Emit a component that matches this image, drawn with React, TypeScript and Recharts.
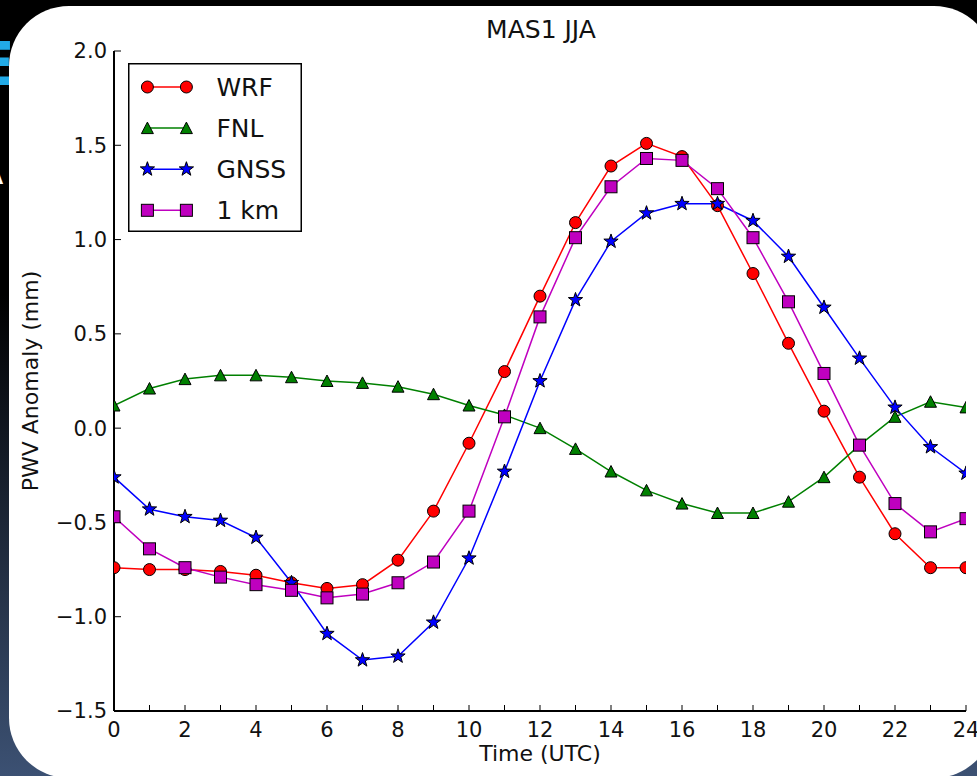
import React from "react";
import { Legend, Line, LineChart, XAxis, YAxis } from "recharts";

const hours = [0, 1, 2, 3, 4, 5, 6, 7, 8, 9, 10, 11, 12, 13, 14, 15, 16, 17, 18, 19, 20, 21, 22, 23, 24];
const wrf = [-0.74, -0.75, -0.75, -0.76, -0.78, -0.82, -0.85, -0.83, -0.7, -0.44, -0.08, 0.3, 0.7, 1.09, 1.39, 1.51, 1.44, 1.18, 0.82, 0.45, 0.09, -0.26, -0.56, -0.74, -0.74];
const fnl = [0.12, 0.21, 0.26, 0.28, 0.28, 0.27, 0.25, 0.24, 0.22, 0.18, 0.12, 0.07, 0.0, -0.11, -0.23, -0.33, -0.4, -0.45, -0.45, -0.39, -0.26, -0.09, 0.06, 0.14, 0.11];
const gnss = [-0.26, -0.43, -0.47, -0.49, -0.58, -0.82, -1.09, -1.23, -1.21, -1.03, -0.69, -0.23, 0.25, 0.68, 0.99, 1.14, 1.19, 1.19, 1.1, 0.91, 0.64, 0.37, 0.11, -0.1, -0.24];
const oneKm = [-0.47, -0.64, -0.74, -0.79, -0.83, -0.86, -0.9, -0.88, -0.82, -0.71, -0.44, 0.06, 0.59, 1.01, 1.28, 1.43, 1.42, 1.27, 1.01, 0.67, 0.29, -0.09, -0.4, -0.55, -0.48];
const yTicks = [-1.5, -1.0, -0.5, 0.0, 0.5, 1.0, 1.5, 2.0];

type Shape = "circle" | "triangle" | "star" | "square";

const series: { key: string; name: string; color: string; shape: Shape }[] = [
  { key: "wrf", name: "WRF", color: "#ff0000", shape: "circle" },
  { key: "fnl", name: "FNL", color: "#008000", shape: "triangle" },
  { key: "gnss", name: "GNSS", color: "#0000ff", shape: "star" },
  { key: "km1", name: "1 km", color: "#bf00bf", shape: "square" },
];

const data = hours.map((hour, i) => ({
  hour,
  wrf: wrf[i],
  fnl: fnl[i],
  gnss: gnss[i],
  km1: oneKm[i],
}));

function starPoints(cx: number, cy: number, outer: number, inner: number) {
  const pts: string[] = [];
  for (let i = 0; i < 10; i++) {
    const r = i % 2 === 0 ? outer : inner;
    const a = -Math.PI / 2 + (i * Math.PI) / 5;
    pts.push(`${cx + r * Math.cos(a)},${cy + r * Math.sin(a)}`);
  }
  return pts.join(" ");
}

function Marker({ shape, cx, cy, fill }: { shape: Shape; cx: number; cy: number; fill: string }) {
  const edge = { stroke: "#000", strokeWidth: 1 };
  if (shape === "circle") return <circle cx={cx} cy={cy} r={6} fill={fill} {...edge} />;
  if (shape === "triangle")
    return <polygon points={`${cx},${cy - 6} ${cx - 6},${cy + 5.5} ${cx + 6},${cy + 5.5}`} fill={fill} {...edge} />;
  if (shape === "star") return <polygon points={starPoints(cx, cy, 7.5, 3)} fill={fill} {...edge} />;
  return <rect x={cx - 6} y={cy - 6} width={12} height={12} fill={fill} {...edge} />;
}

function LegendBox() {
  return (
    <svg width={174} height={169} style={{ display: "block" }}>
      <rect x={0.75} y={0.75} width={172.5} height={167.5} fill="#fff" stroke="#000" strokeWidth={1.5} />
      {series.map((s, i) => {
        const cy = 24 + i * 41.1;
        return (
          <g key={s.key}>
            <line x1={19.4} x2={58.4} y1={cy} y2={cy} stroke={s.color} strokeWidth={1.5} />
            <Marker shape={s.shape} cx={19.4} cy={cy} fill={s.color} />
            <Marker shape={s.shape} cx={58.4} cy={cy} fill={s.color} />
            <text x={88.4} y={cy + 9} fontSize={25} fill="#111">
              {s.name}
            </text>
          </g>
        );
      })}
    </svg>
  );
}

const fmtY = (v: number) => v.toFixed(1).replace("-", "\u2212");
const fmtX = (v: number) => (v % 2 === 0 ? String(v) : "");
const blank = () => "";

export default function App() {
  return (
    <div
      style={{
        position: "fixed",
        left: 0,
        top: 0,
        width: 977,
        height: 776,
        overflow: "hidden",
        fontFamily: "'DejaVu Sans', sans-serif",
        background: "linear-gradient(180deg, #000 0%, #000 38%, #3c5173 100%)",
      }}
    >
      <div style={{ position: "absolute", left: -26, top: 34, fontSize: 60, fontWeight: 700, color: "#22aae6", lineHeight: 1 }}>E</div>
      <div style={{ position: "absolute", left: -24, top: 150, fontSize: 40, color: "#fff", lineHeight: 1 }}>A</div>
      <div style={{ position: "absolute", left: 9, top: 6, width: 985, height: 772, borderRadius: 60, background: "#fff" }} />
      <div style={{ position: "absolute", left: 0, top: 0 }}>
        <LineChart width={977} height={776} data={data} margin={{ top: 51, right: 11, bottom: 0, left: 0 }}>
          <XAxis
            dataKey="hour"
            type="number"
            domain={[0, 24]}
            ticks={hours}
            interval={0}
            allowDataOverflow
            height={65}
            stroke="#000"
            axisLine={{ stroke: "#000", strokeWidth: 2 }}
            tickLine={{ stroke: "#000", strokeWidth: 1 }}
            tickSize={-6}
            tickMargin={17}
            tickFormatter={fmtX}
            tick={{ fill: "#111", fontSize: 21 }}
          />
          <XAxis
            xAxisId="top"
            orientation="top"
            dataKey="hour"
            type="number"
            domain={[0, 24]}
            ticks={hours}
            interval={0}
            height={0}
            stroke="#000"
            axisLine={{ stroke: "#000", strokeWidth: 2 }}
            tickLine={{ stroke: "#000", strokeWidth: 1 }}
            tickSize={-6}
            tickFormatter={blank}
          />
          <YAxis
            type="number"
            domain={[-1.5, 2]}
            ticks={yTicks}
            interval={0}
            allowDataOverflow
            width={114}
            stroke="#000"
            axisLine={{ stroke: "#000", strokeWidth: 2 }}
            tickLine={{ stroke: "#000", strokeWidth: 1 }}
            tickSize={-7}
            tickMargin={14}
            tickFormatter={fmtY}
            tick={{ fill: "#111", fontSize: 21 }}
          />
          <YAxis
            yAxisId="right"
            orientation="right"
            type="number"
            domain={[-1.5, 2]}
            ticks={yTicks}
            interval={0}
            width={0}
            stroke="#000"
            axisLine={{ stroke: "#000", strokeWidth: 2 }}
            tickLine={{ stroke: "#000", strokeWidth: 1 }}
            tickSize={-7}
            tickFormatter={blank}
          />
          {series.map((s) => (
            <Line
              key={s.key}
              dataKey={s.key}
              name={s.name}
              type="linear"
              stroke={s.color}
              strokeWidth={1.5}
              isAnimationActive={false}
              activeDot={false}
              dot={(p: any) => (
                <Marker key={`${s.key}-${p.index}`} shape={s.shape} cx={p.cx} cy={p.cy} fill={s.color} />
              )}
            />
          ))}
          <Legend
            layout="vertical"
            align="center"
            verticalAlign="middle"
            content={() => <LegendBox />}
            wrapperStyle={{ left: 128, top: 63, width: 174, height: 169 }}
          />
        </LineChart>
      </div>
      <svg width={977} height={776} style={{ position: "absolute", left: 0, top: 0, pointerEvents: "none" }}>
        <text x={541} y={38} textAnchor="middle" fontSize={25} fill="#111">
          MAS1 JJA
        </text>
        <text x={540} y={761} textAnchor="middle" fontSize={22} fill="#111">
          Time (UTC)
        </text>
        <text x={37.7} y={381} textAnchor="middle" fontSize={22} fill="#111" transform="rotate(-90 37.7 381)">
          PWV Anomaly (mm)
        </text>
      </svg>
    </div>
  );
}
